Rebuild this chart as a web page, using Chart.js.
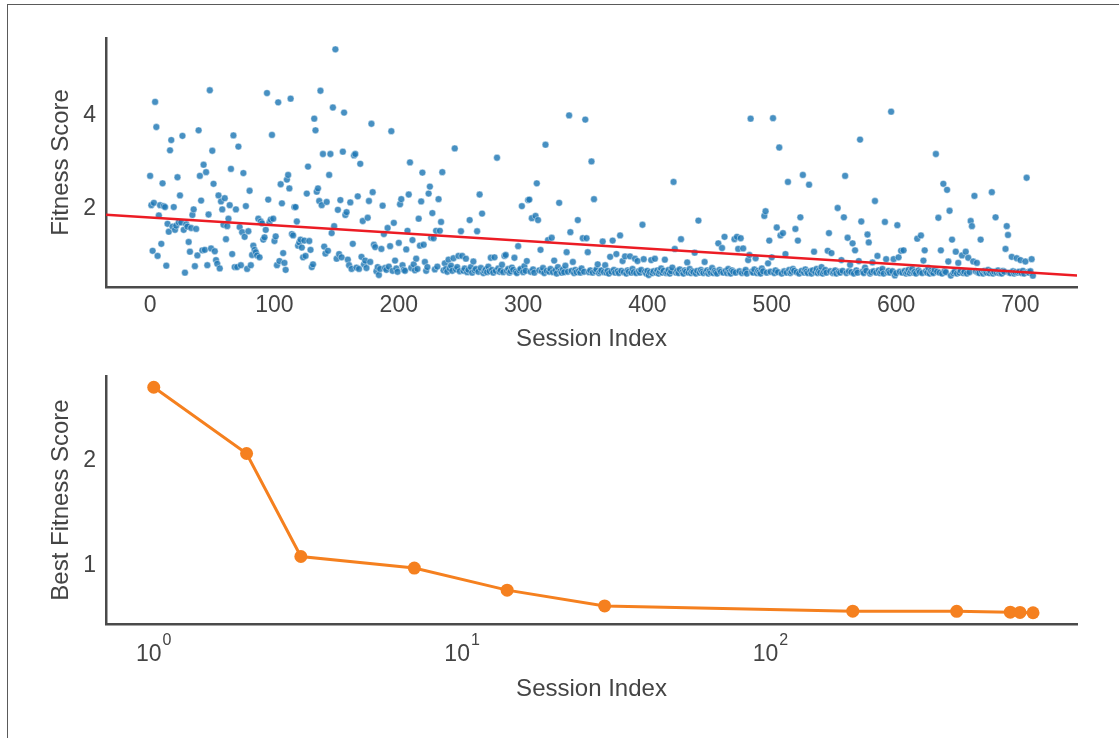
<!DOCTYPE html>
<html>
<head>
<meta charset="utf-8">
<script src="https://cdn.jsdelivr.net/npm/chart.js@4.4.1/dist/chart.umd.min.js"></script>
<style>
  html, body { margin: 0; padding: 0; background: #ffffff; }
  #page { position: relative; width: 1119px; height: 738px; overflow: hidden; background: #ffffff; }
  #frame { position: absolute; left: 7px; top: 4px; width: 1112px; height: 734px;
           border-top: 1px solid #5a5a5a; border-left: 1px solid #5a5a5a; box-sizing: border-box; }
  canvas { position: absolute; left: 0; }
  #scoresCanvas { top: 0; }
  #bestCanvas { top: 345px; }
</style>
</head>
<body>
<div id="page">
  <div id="frame"></div>
  <canvas id="scoresCanvas" width="1119" height="369"></canvas>
  <canvas id="bestCanvas" width="1119" height="393"></canvas>
</div>
<script>
// Fitness score of every session, in session order (index 0 = first session)
const fitnessScores = [
  2.70, 2.07, 1.09, 2.12, 4.29, 3.75, 0.98, 1.85, 2.07, 1.24,
  2.54, 2.05, 2.03, 0.77, 1.67, 1.50, 3.25, 3.47, 1.61, 2.03,
  1.54, 1.63, 2.67, 1.70, 2.28, 1.70, 3.56, 1.54, 0.62, 1.66,
  1.61, 1.28, 1.07, 1.58, 1.86, 1.98, 0.76, 1.56, 0.99, 3.68,
  2.70, 2.17, 1.10, 2.94, 1.11, 2.78, 0.78, 1.87, 4.54, 1.14,
  3.24, 2.53, 1.08, 0.89, 0.81, 2.28, 0.71, 2.15, 1.98, 1.65,
  2.22, 1.34, 1.62, 1.78, 2.07, 2.85, 1.02, 3.57, 0.74, 1.98,
  0.74, 3.33, 1.60, 0.78, 1.49, 2.76, 1.39, 2.05, 0.70, 1.51,
  2.38, 0.78, 1.00, 1.20, 1.11, 1.06, 0.99, 1.78, 0.95, 1.72,
  1.68, 1.33, 1.38, 1.54, 4.48, 2.19, 1.70, 1.76, 3.58, 1.78,
  1.30, 1.40, 0.78, 4.28, 0.87, 2.52, 2.11, 1.04, 0.83, 0.68,
  2.62, 2.72, 2.43, 4.36, 1.45, 1.42, 2.03, 2.03, 1.72, 1.20,
  1.27, 1.33, 1.16, 0.95, 1.31, 0.98, 2.32, 2.90, 1.30, 1.11,
  0.74, 0.80, 3.93, 3.68, 2.36, 2.43, 2.16, 4.53, 2.07, 3.17,
  1.18, 1.03, 2.14, 1.09, 2.72, 3.17, 1.47, 4.17, 1.62, 5.42,
  0.92, 1.97, 1.02, 2.18, 0.95, 3.22, 4.06, 1.86, 1.92, 0.90,
  0.78, 2.13, 0.70, 1.24, 3.14, 3.17, 0.73, 2.26, 0.70, 2.96,
  0.96, 1.73, 0.80, 0.88, 0.72, 1.80, 2.16, 0.85, 3.82, 2.35,
  1.22, 1.17, 0.65, 0.74, 0.57, 0.70, 1.13, 2.06, 1.45, 0.72,
  0.68, 1.58, 0.75, 1.19, 3.66, 0.66, 1.69, 0.88, 0.71, 0.64,
  1.26, 2.09, 2.20, 0.78, 0.68, 0.66, 1.12, 1.52, 2.30, 2.99,
  0.72, 1.32, 0.80, 0.67, 0.92, 0.70, 1.78, 1.20, 2.15, 2.77,
  1.22, 0.85, 0.66, 0.74, 2.32, 2.47, 1.37, 1.90, 1.36, 0.69,
  1.52, 0.75, 2.20, 1.52, 1.71, 2.78, 0.67, 0.82, 0.70, 0.64,
  0.90, 0.71, 0.77, 0.66, 0.93, 3.29, 0.69, 0.74, 0.98, 0.65,
  1.51, 0.98, 0.66, 0.71, 0.92, 0.63, 0.68, 1.75, 0.74, 0.62,
  0.86, 0.67, 0.70, 1.51, 0.64, 2.30, 0.72, 1.89, 0.61, 0.66,
  0.69, 0.63, 0.75, 0.65, 0.94, 0.68, 0.62, 0.95, 0.66, 3.09,
  0.71, 0.64, 0.67, 0.79, 0.63, 0.98, 1.00, 0.66, 0.70, 0.62,
  0.65, 0.73, 0.68, 0.94, 0.64, 0.61, 1.19, 0.67, 0.70, 2.05,
  0.63, 0.76, 0.66, 0.87, 2.18, 2.19, 0.64, 1.79, 0.69, 0.62,
  1.84, 2.54, 1.75, 0.67, 1.11, 0.65, 0.72, 0.61, 3.37, 0.66,
  1.32, 0.64, 0.70, 1.37, 0.63, 0.88, 0.67, 0.60, 0.74, 2.12,
  0.65, 0.62, 0.69, 0.63, 0.77, 1.06, 0.64, 4.00, 1.49, 0.66,
  0.85, 0.61, 0.68, 0.63, 1.75, 0.66, 0.62, 0.71, 1.36, 0.64,
  3.91, 1.36, 1.06, 0.63, 0.67, 3.01, 0.62, 2.20, 0.65, 0.69,
  0.80, 0.61, 0.64, 0.67, 1.29, 0.63, 0.78, 0.62, 0.66, 0.60,
  0.96, 0.64, 1.31, 0.68, 0.62, 1.02, 0.65, 0.61, 1.42, 0.66,
  0.87, 0.63, 0.97, 0.60, 0.67, 0.64, 0.97, 0.62, 0.70, 0.63,
  0.92, 0.61, 0.87, 0.65, 0.62, 0.68, 1.65, 0.91, 0.64, 0.60,
  0.66, 0.568, 0.63, 0.89, 0.61, 0.65, 0.92, 0.62, 0.67, 0.60,
  0.64, 0.71, 0.62, 0.66, 0.90, 0.61, 0.63, 0.68, 0.60, 0.65,
  0.73, 2.57, 1.13, 0.62, 0.66, 0.61, 0.69, 1.34, 0.63, 0.60,
  0.67, 0.64, 0.84, 0.62, 0.70, 0.61, 0.65, 0.63, 1.05, 0.60,
  0.66, 1.74, 0.62, 0.68, 0.64, 0.61, 0.85, 0.63, 0.67, 0.60,
  0.65, 0.62, 0.72, 0.61, 0.66, 0.63, 0.60, 1.25, 0.68, 0.64,
  1.15, 0.62, 1.39, 0.66, 0.61, 0.70, 0.63, 0.60, 0.67, 0.64,
  1.34, 0.62, 1.39, 1.13, 0.65, 1.36, 0.61, 1.14, 0.63, 0.68,
  0.60, 0.89, 1.00, 3.93, 0.64, 0.62, 0.69, 0.93, 0.61, 0.66,
  0.63, 0.60, 0.71, 0.65, 1.84, 1.94, 0.62, 0.82, 1.31, 0.64,
  0.95, 3.94, 0.61, 0.67, 1.59, 0.63, 3.31, 1.42, 0.60, 1.47,
  0.65, 1.02, 0.62, 2.57, 0.68, 0.61, 0.64, 0.70, 0.66, 1.56,
  0.63, 1.31, 0.60, 1.81, 0.66, 2.72, 0.62, 0.69, 0.64, 0.61,
  2.51, 0.65, 0.60, 0.67, 1.07, 0.63, 0.70, 0.61, 0.66, 0.62,
  0.74, 0.60, 0.64, 0.68, 0.62, 1.09, 1.47, 0.65, 1.04, 0.61,
  0.63, 0.67, 0.60, 2.01, 0.64, 0.62, 0.89, 0.66, 1.81, 2.70,
  0.61, 1.37, 0.65, 0.79, 0.63, 1.25, 0.60, 1.10, 0.67, 0.62,
  0.87, 3.48, 1.72, 0.64, 0.61, 0.73, 0.66, 1.44, 1.27, 0.60,
  0.63, 0.84, 0.65, 2.16, 0.62, 0.98, 0.67, 0.61, 0.64, 0.70,
  0.60, 1.71, 0.91, 0.63, 0.66, 0.62, 4.08, 0.65, 0.91, 0.56,
  0.61, 1.64, 0.95, 0.64, 1.09, 0.62, 1.10, 0.66, 0.60, 0.63,
  0.68, 0.61, 0.65, 0.70, 0.62, 0.64, 0.60, 1.35, 0.67, 0.63,
  1.42, 0.61, 0.88, 1.10, 0.65, 0.62, 0.72, 0.60, 0.66, 0.63,
  0.61, 0.68, 3.17, 0.64, 1.80, 0.62, 1.10, 0.60, 2.53, 0.65,
  0.63, 2.40, 0.86, 1.95, 0.558, 1.33, 0.61, 0.64, 1.07, 0.60,
  0.83, 0.62, 0.66, 0.99, 0.61, 0.64, 1.07, 0.60, 0.94, 0.63,
  1.73, 1.62, 0.86, 2.27, 0.65, 0.83, 0.62, 0.61, 1.33, 0.64,
  0.60, 0.66, 0.63, 0.62, 0.68, 0.61, 0.65, 2.35, 0.60, 0.64,
  1.81, 0.62, 0.67, 0.61, 0.63, 0.60, 0.66, 0.64, 1.13, 1.62,
  1.43, 0.62, 0.61, 0.96, 0.65, 0.60, 0.63, 0.93, 0.62, 0.64,
  0.89, 0.61, 0.66, 0.60, 0.86, 2.66, 0.63, 0.62, 0.65, 0.91,
  0.555
];

// Sessions (1-based) at which a new best score was reached, and that score
const bestSessions = [1, 2, 3, 7, 14, 29, 185, 402, 600, 645, 711];
const bestScores   = [2.70, 2.07, 1.09, 0.98, 0.77, 0.62, 0.57, 0.568, 0.56, 0.558, 0.555];

// Tick labels
const scoreXTicks = [0, 100, 200, 300, 400, 500, 600, 700];
const scoreYTicks = [2, 4];
const bestXTickExponents = [0, 1, 2];
const bestYTicks = [1, 2];

const TEXT = '#444444';
const AXIS = '#4a4a4a';
const FONT = '"Liberation Sans", Arial, Helvetica, sans-serif';
Chart.defaults.font.family = FONT;
Chart.defaults.color = TEXT;

// axis range with a 5% margin on each side
function padded(lo, hi) { const m = (hi - lo) * 0.05; return [lo - m, hi + m]; }

// least-squares trend of score against session index
function linearFit(xs, ys) {
  const n = xs.length;
  const mx = xs.reduce((a, b) => a + b, 0) / n;
  const my = ys.reduce((a, b) => a + b, 0) / n;
  let sxy = 0, sxx = 0;
  for (let i = 0; i < n; i++) { sxy += (xs[i] - mx) * (ys[i] - my); sxx += (xs[i] - mx) ** 2; }
  const slope = sxy / sxx;
  return { slope, intercept: my - slope * mx };
}

const idx = fitnessScores.map((_, i) => i);
const [sxMin, sxMax] = padded(0, idx.length - 1);
const [syMin, syMax] = padded(Math.min(...fitnessScores), Math.max(...fitnessScores));
const fit = linearFit(idx, fitnessScores);

const tickFont = { size: 23 };
const titleFont = { size: 24 };

function fixedTicks(values) { return scale => { scale.ticks = values.map(v => ({ value: v })); }; }

new Chart(document.getElementById('scoresCanvas'), {
  type: 'scatter',
  data: {
    datasets: [
      {
        type: 'line',
        data: [sxMin, sxMax].map(x => ({ x, y: fit.intercept + fit.slope * x })),
        borderColor: '#ec1c24',
        borderWidth: 2.5,
        pointRadius: 0,
        order: 0
      },
      {
        data: fitnessScores.map((v, i) => ({ x: i, y: v })),
        backgroundColor: 'rgba(31,119,180,0.82)',
        borderColor: 'rgba(255,255,255,0.7)',
        borderWidth: 0.6,
        pointRadius: 3.4,
        order: 1
      }
    ]
  },
  options: {
    responsive: false,
    animation: false,
    events: [],
    layout: { padding: { top: 38, right: 42, left: 0, bottom: 0 } },
    plugins: { legend: { display: false }, tooltip: { enabled: false } },
    scales: {
      x: {
        type: 'linear', min: sxMin, max: sxMax,
        afterBuildTicks: fixedTicks(scoreXTicks),
        afterFit: s => { s.height = 82; },
        grid: { display: false, drawTicks: false },
        border: { display: true, color: AXIS, width: 2.5 },
        ticks: { font: tickFont, color: TEXT, padding: 5, maxRotation: 0 },
        title: { display: true, text: 'Session Index', font: titleFont, color: TEXT, padding: { top: 0, bottom: 15 } }
      },
      y: {
        type: 'linear', min: syMin, max: syMax,
        afterBuildTicks: fixedTicks(scoreYTicks),
        afterFit: s => { s.width = 106; },
        grid: { display: false, drawTicks: false },
        border: { display: true, color: AXIS, width: 2.5 },
        ticks: { font: tickFont, color: TEXT, padding: 10 },
        title: { display: true, text: 'Fitness Score', font: titleFont, color: TEXT, padding: { top: 47, bottom: 0 } }
      }
    }
  }
});

// power-of-ten labels with raised exponents under the log axis
const powerLabels = {
  id: 'powerLabels',
  afterDraw(chart) {
    const s = chart.scales.x;
    const ctx = chart.ctx;
    ctx.save();
    ctx.fillStyle = TEXT;
    ctx.textAlign = 'left';
    ctx.textBaseline = 'alphabetic';
    const baseY = s.top + 37;
    bestXTickExponents.forEach(e => {
      const x = s.getPixelForValue(Math.pow(10, e));
      ctx.font = '23px ' + FONT;
      const w1 = ctx.measureText('10').width;
      ctx.font = '16px ' + FONT;
      const w2 = ctx.measureText(String(e)).width;
      const x0 = x - (w1 + 1 + w2) / 2;
      ctx.font = '23px ' + FONT;
      ctx.fillText('10', x0, baseY);
      ctx.font = '16px ' + FONT;
      ctx.fillText(String(e), x0 + w1 + 1, baseY - 16);
    });
    ctx.restore();
  }
};

const logLo = Math.log10(Math.min(...bestSessions));
const logHi = Math.log10(Math.max(...bestSessions));
const [blMin, blMax] = padded(logLo, logHi);
const [byMin, byMax] = padded(Math.min(...bestScores), Math.max(...bestScores));

new Chart(document.getElementById('bestCanvas'), {
  type: 'scatter',
  data: {
    datasets: [{
      data: bestSessions.map((s, i) => ({ x: s, y: bestScores[i] })),
      showLine: true,
      borderColor: '#f5801f',
      borderWidth: 3,
      backgroundColor: '#f5801f',
      pointBackgroundColor: '#f5801f',
      pointBorderWidth: 0,
      pointRadius: 6.5
    }]
  },
  plugins: [powerLabels],
  options: {
    responsive: false,
    animation: false,
    events: [],
    layout: { padding: { top: 31, right: 42, left: 0, bottom: 0 } },
    plugins: { legend: { display: false }, tooltip: { enabled: false } },
    scales: {
      x: {
        type: 'logarithmic', min: Math.pow(10, blMin), max: Math.pow(10, blMax),
        afterBuildTicks: fixedTicks(bestXTickExponents.map(e => Math.pow(10, e))),
        afterFit: s => { s.height = 114; },
        grid: { display: false, drawTicks: false },
        border: { display: true, color: AXIS, width: 2.5 },
        ticks: { display: false },
        title: { display: true, text: 'Session Index', font: titleFont, color: TEXT, padding: { top: 0, bottom: 34 } }
      },
      y: {
        type: 'linear', min: byMin, max: byMax,
        afterBuildTicks: fixedTicks(bestYTicks),
        afterFit: s => { s.width = 106; },
        grid: { display: false, drawTicks: false },
        border: { display: true, color: AXIS, width: 2.5 },
        ticks: { font: tickFont, color: TEXT, padding: 10 },
        title: { display: true, text: 'Best Fitness Score', font: titleFont, color: TEXT, padding: { top: 47, bottom: 0 } }
      }
    }
  }
});
</script>
</body>
</html>
